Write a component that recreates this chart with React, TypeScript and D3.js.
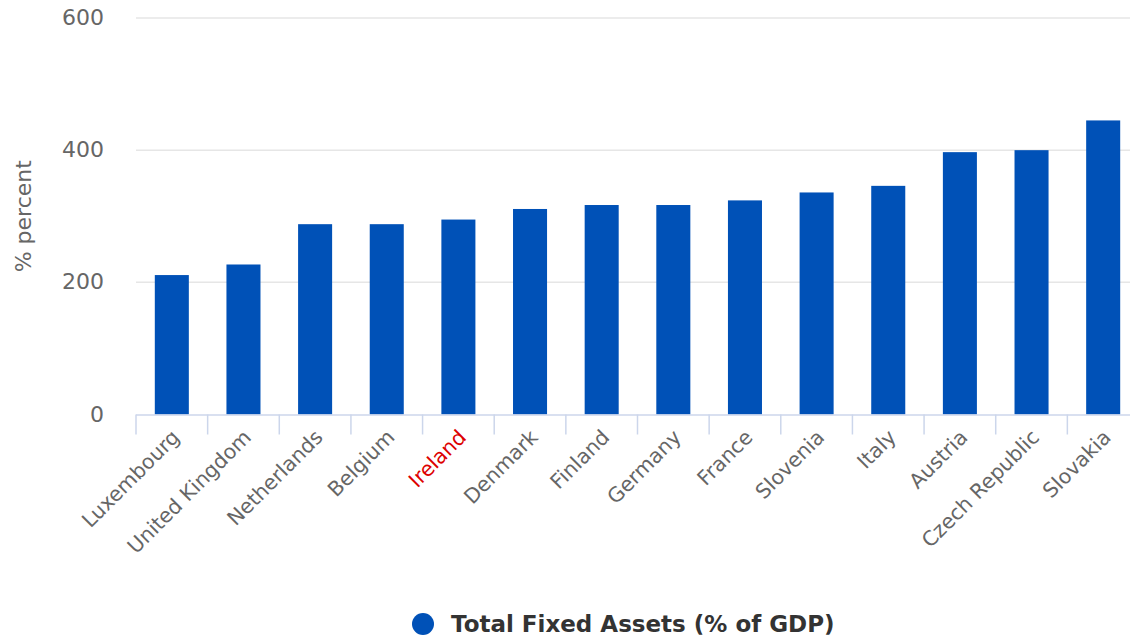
import React from "react";
import * as d3 from "d3";

const categories = [
  "Luxembourg", "United Kingdom", "Netherlands", "Belgium", "Ireland", "Denmark",
  "Finland", "Germany", "France", "Slovenia", "Italy", "Austria", "Czech Republic", "Slovakia",
];
const values = [211, 227, 288, 288, 295, 311, 317, 317, 324, 336, 346, 397, 400, 445];
const yTicks = [0, 200, 400, 600];
const highlight = "Ireland";
const seriesName = "Total Fixed Assets (% of GDP)";
const yTitle = "% percent";

const W = 1130, H = 640;
const left = 136, right = 1139, top = 18, bottom = 414.5;
const barColor = "#0051B7";
const font = "'DejaVu Sans', Verdana, sans-serif";

export default function App() {
  const x = d3.scaleBand<string>().domain(categories).range([left, right]).paddingInner(0.525).paddingOuter(0.2625);
  const y = d3.scaleLinear().domain([0, 600]).range([bottom, top]);
  const step = x.step();
  const x0 = left;
  return (
    <div style={{ position: "absolute", left: 0, top: 0 }}>
      <svg width={W} height={H} style={{ display: "block", background: "#fff" }}>
        {yTicks.map((t) => (
          <g key={t}>
            {t !== 0 && <line x1={left} x2={right} y1={y(t)} y2={y(t)} stroke="#e6e6e6" strokeWidth={1.5} />}
            <text x={104} y={y(t) + 7} textAnchor="end" fontFamily={font} fontSize={22} fill="#666">{t}</text>
          </g>
        ))}
        <text transform={`translate(31,${(top + bottom) / 2}) rotate(-90)`} textAnchor="middle" fontFamily={font} fontSize={22} fill="#666">{yTitle}</text>
        {categories.map((c, i) => (
          <rect key={c} x={x(c)} y={y(values[i])} width={x.bandwidth()} height={bottom - y(values[i])} fill={barColor} />
        ))}
        <line x1={left} x2={right} y1={bottom + 0.5} y2={bottom + 0.5} stroke="#ccd6eb" strokeWidth={1.5} />
        {d3.range(categories.length + 1).map((i) => (
          <line key={i} x1={x0 + i * step} x2={x0 + i * step} y1={bottom} y2={bottom + 20} stroke="#ccd6eb" strokeWidth={1.5} />
        ))}
        {categories.map((c) => {
          const cx = (x(c) as number) + x.bandwidth() / 2 + 9;
          return (
            <text key={c} transform={`translate(${cx},${bottom + 24}) rotate(-45)`} textAnchor="end"
              fontFamily={font} fontSize={20.5} fill={c === highlight ? "#dd0000" : "#666"}>{c}</text>
          );
        })}
        <circle cx={423} cy={624} r={11} fill={barColor} />
        <text x={451} y={632} fontFamily={font} fontSize={23} fontWeight="bold" fill="#333">{seriesName}</text>
      </svg>
    </div>
  );
}
